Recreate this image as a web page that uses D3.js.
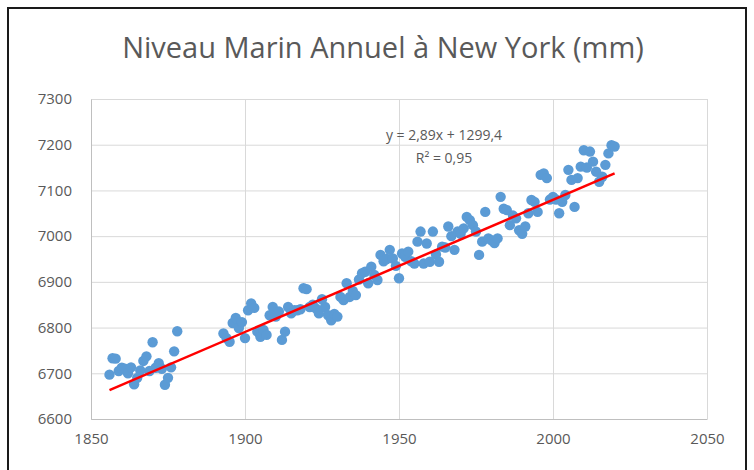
<!DOCTYPE html>
<html>
<head>
<meta charset="utf-8">
<script src="https://cdn.jsdelivr.net/npm/d3@7"></script>
<style>
  body { margin: 0; background: #fff; }
  svg text { font-family: "Open Sans", "Noto Sans", sans-serif; fill: #595959; }
</style>
</head>
<body>
<svg id="chart" width="754" height="470"></svg>
<script>
// data
const annees = [
  1856, 1857, 1858, 1859, 1860, 1861, 1862, 1863, 1864, 1865, 1866, 1867,
  1868, 1869, 1870, 1871, 1872, 1873, 1874, 1875, 1876, 1877, 1878,
  1893, 1894, 1895, 1896, 1897, 1898, 1899, 1900, 1901, 1902, 1903, 1904,
  1905, 1906, 1907, 1908, 1909, 1910, 1911, 1912, 1913, 1914, 1915, 1916,
  1917, 1918, 1919, 1920, 1921, 1922, 1923, 1924, 1925, 1926, 1927, 1928,
  1929, 1930, 1931, 1932, 1933, 1934, 1935, 1936, 1937, 1938, 1939, 1940,
  1941, 1942, 1943, 1944, 1945, 1946, 1947, 1948, 1949, 1950, 1951, 1952,
  1953, 1954, 1955, 1956, 1957, 1958, 1959, 1960, 1961, 1962, 1963, 1964,
  1965, 1966, 1967, 1968, 1969, 1970, 1971, 1972, 1973, 1974, 1975, 1976,
  1977, 1978, 1979, 1980, 1981, 1982, 1983, 1984, 1985, 1986, 1987, 1988,
  1989, 1990, 1991, 1992, 1993, 1994, 1995, 1996, 1997, 1998, 1999, 2000,
  2001, 2002, 2003, 2004, 2005, 2006, 2007, 2008, 2009, 2010, 2011, 2012,
  2013, 2014, 2015, 2016, 2017, 2018, 2019, 2020
];
const niveaux = [
  6697, 6733, 6732, 6705, 6712, 6710, 6700, 6713, 6676, 6690, 6706, 6727,
  6737, 6705, 6768, 6712, 6722, 6710, 6675, 6690, 6713, 6748, 6792,
  6787, 6777, 6769, 6810, 6821, 6799, 6812, 6777, 6838, 6853, 6843, 6791,
  6780, 6795, 6784, 6827, 6845, 6824, 6835, 6773, 6791, 6845, 6831, 6838,
  6838, 6840, 6886, 6884, 6845, 6850, 6842, 6831, 6862, 6845, 6827, 6816,
  6830, 6824, 6867, 6860, 6897, 6867, 6880, 6871, 6905, 6919, 6922, 6897,
  6933, 6915, 6904, 6959, 6945, 6950, 6970, 6951, 6935, 6908, 6962, 6955,
  6966, 6945, 6940, 6988, 7010, 6940, 6984, 6944, 7010, 6960, 6944, 6977,
  6975, 7021, 7000, 6970, 7010, 7005, 7017, 7042, 7035, 7024, 7010, 6959,
  6988, 7053, 6995, 6991, 6985, 6995, 7086, 7060, 7057, 7024, 7045, 7039,
  7013, 7005, 7021, 7050, 7079, 7075, 7053, 7134, 7137, 7127, 7080, 7086,
  7080, 7050, 7075, 7090, 7145, 7123, 7064, 7127, 7152, 7188, 7150, 7185,
  7163, 7141, 7119, 7130, 7156, 7181, 7199, 7196
];
const xTicks = [1850, 1900, 1950, 2000, 2050];
const yTicks = [6600, 6700, 6800, 6900, 7000, 7100, 7200, 7300];
const pente = 2.89, origine = 1299.4;   // trend shown on the chart
const labelEq = ["y = 2,89x + 1299,4", "R\u00b2 = 0,95"];
const titre = "Niveau Marin Annuel \u00e0 New York (mm)";

const svg = d3.select("#chart");
const plot = { left: 91, right: 707, top: 99, bottom: 419 };

const x = d3.scaleLinear().domain([1850, 2050]).range([plot.left, plot.right]);
const y = d3.scaleLinear().domain([6600, 7300]).range([plot.bottom, plot.top]);

// outer frame
svg.append("rect")
  .attr("x", 8).attr("y", 8).attr("width", 738).attr("height", 480)
  .attr("fill", "none").attr("stroke", "#1a1a1a").attr("stroke-width", 2);

// title
svg.append("text")
  .attr("x", 383).attr("y", 58)
  .attr("text-anchor", "middle")
  .style("font-size", "29px")
  .text(titre);

// grid
const grid = svg.append("g");
grid.selectAll(".hg").data(yTicks).enter().append("line")
  .attr("x1", plot.left).attr("x2", plot.right)
  .attr("y1", d => y(d) + 0.5).attr("y2", d => y(d) + 0.5)
  .attr("stroke", "#d9d9d9");
grid.selectAll(".vg").data(xTicks).enter().append("line")
  .attr("y1", plot.top).attr("y2", plot.bottom)
  .attr("x1", d => x(d) + 0.5).attr("x2", d => x(d) + 0.5)
  .attr("stroke", "#d9d9d9");

// axes (labels only, Excel style)
const yAxis = svg.append("g")
  .attr("transform", `translate(${plot.left},0)`)
  .call(d3.axisLeft(y).tickValues(yTicks).tickSize(0).tickPadding(19).tickFormat(d3.format("d")));
const xAxis = svg.append("g")
  .attr("transform", `translate(0,${plot.bottom})`)
  .call(d3.axisBottom(x).tickValues(xTicks).tickSize(0).tickPadding(14).tickFormat(d3.format("d")));
[yAxis, xAxis].forEach(a => {
  a.select(".domain").attr("stroke", "#bfbfbf");
  a.selectAll("text").style("font-size", "15px").attr("fill", "#595959")
    .style("font-family", "'Open Sans', sans-serif");
});

// points
svg.append("g").selectAll("circle")
  .data(annees.map((a, i) => [a, niveaux[i]]))
  .enter().append("circle")
  .attr("cx", d => x(d[0]))
  .attr("cy", d => y(d[1]))
  .attr("r", 5.2)
  .attr("fill", "#5b9bd5");

// linear trend
const x0 = d3.min(annees), x1 = d3.max(annees);
svg.append("line")
  .attr("x1", x(x0)).attr("y1", y(pente * x0 + origine))
  .attr("x2", x(x1)).attr("y2", y(pente * x1 + origine))
  .attr("stroke", "#ff0000").attr("stroke-width", 2.5);

svg.selectAll(".eq").data(labelEq).enter().append("text")
  .attr("x", 444).attr("y", (d, i) => 140 + i * 23)
  .attr("text-anchor", "middle")
  .style("font-size", "14px")
  .text(d => d);
</script>
</body>
</html>
